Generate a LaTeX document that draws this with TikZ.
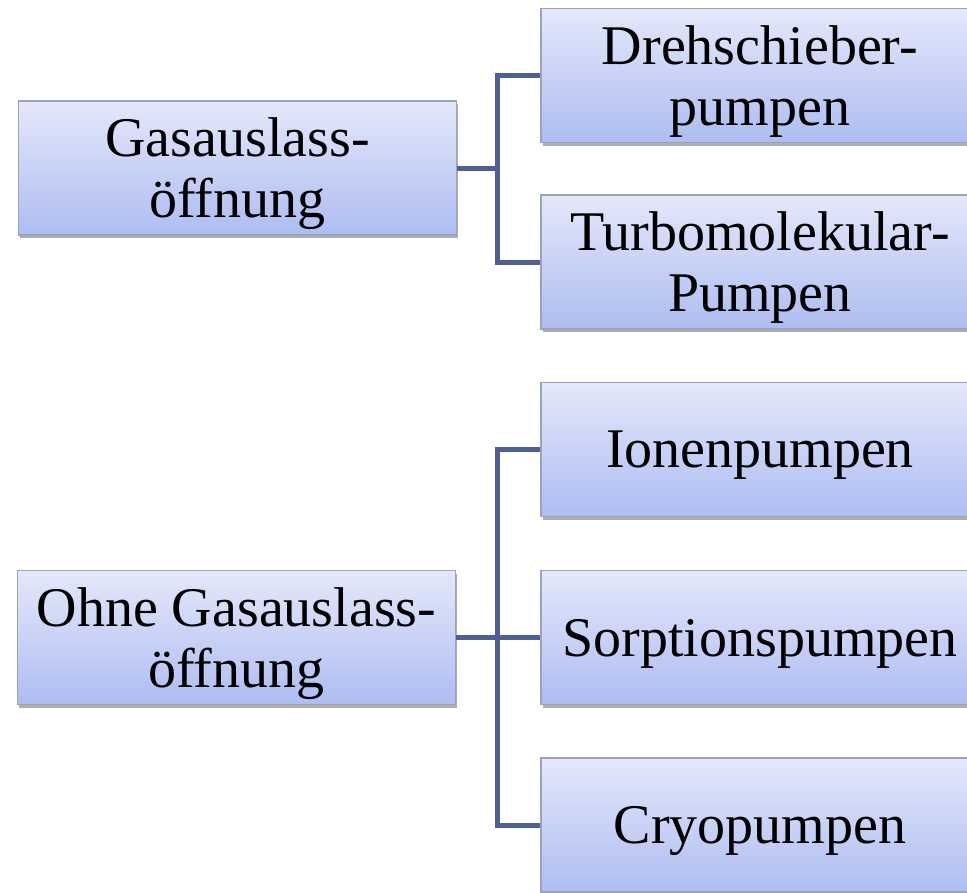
\documentclass[tikz,border=0pt]{standalone}
\usepackage{fontspec}
\setmainfont{Liberation Serif}
\usetikzlibrary{shadows}
\definecolor{boxtop}{HTML}{E4E8FA}
\definecolor{boxbot}{HTML}{AEBDF2}
\definecolor{boxline}{HTML}{9AA3B8}
\definecolor{connc}{HTML}{4E5F94}
\begin{document}
\begin{tikzpicture}[x=1pt,y=-1pt,
  box/.style={draw=boxline, line width=1.2pt, top color=boxtop, bottom color=boxbot,
    minimum width=438pt, minimum height=134pt, align=center, inner sep=0pt,
    text depth=0pt,
    font=\fontsize{56}{61}\selectfont,
    drop shadow={shadow xshift=1.5pt, shadow yshift=-3pt, opacity=0.45, fill=black!70}},
  conn/.style={draw=connc, line width=5pt}]
\clip (0,0) rectangle (967,892);
\fill[white] (0,0) rectangle (967,892);
\coordinate (t1) at (497,168);
\coordinate (t2) at (497,637.5);
\node[box] (L1) at (237.5,168) {Gasauslass-\\öffnung};
\node[box] (L2) at (236.5,637.5) {Ohne Gasauslass-\\öffnung};
\node[box] (R1) at (760,75.5) {Drehschieber-\\pumpen};
\node[box] (R2) at (760,262) {Turbomolekular-\\Pumpen};
\node[box] (R3) at (760,449.5) {Ionenpumpen};
\node[box] (R4) at (760,637.5) {Sorptionspumpen};
\node[box] (R5) at (760,825) {Cryopumpen};
\draw[conn] (L1.east) -- (t1);
\draw[conn] (R1.west) -| (t1) |- (R2.west);
\draw[conn] (L2.east) -- (t2) -- (R4.west);
\draw[conn] (R3.west) -| (t2) |- (R5.west);
\end{tikzpicture}
\end{document}
